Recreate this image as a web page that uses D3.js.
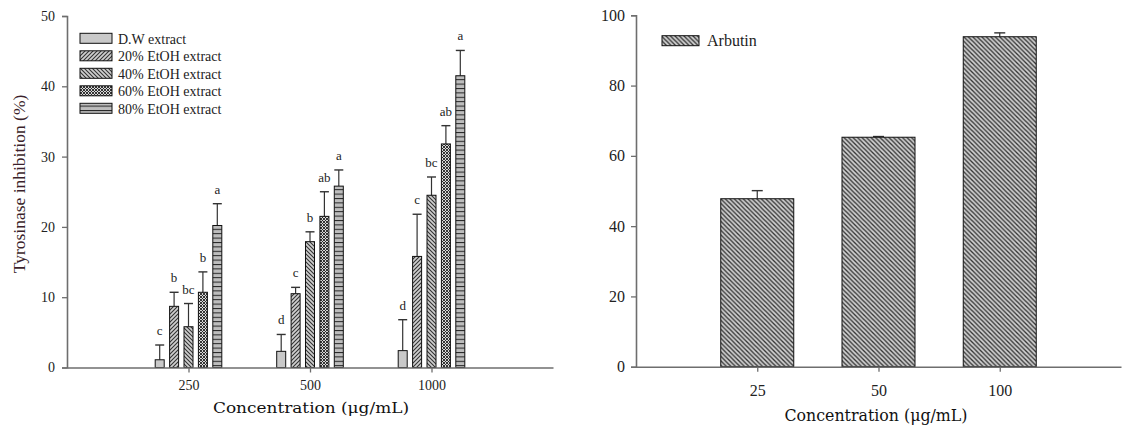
<!DOCTYPE html>
<html><head><meta charset="utf-8">
<script src="https://cdn.jsdelivr.net/npm/d3@7"></script>
<style>body{margin:0;background:#fff}svg{display:block}</style>
</head><body>
<svg id="c" width="1127" height="426"></svg>
<script>
// ---- data ----
const categoriesL = ["250", "500", "1000"];
const seriesNames = ["D.W extract", "20% EtOH extract", "40% EtOH extract", "60% EtOH extract", "80% EtOH extract"];
const dwValues  = [1.1, 2.3, 2.4];
const e20Values = [8.7, 10.5, 15.8];
const e40Values = [5.8, 17.9, 24.5];
const e60Values = [10.7, 21.5, 31.8];
const e80Values = [20.2, 25.8, 41.5];
const dwErr  = [2.1, 2.4, 4.4];
const e20Err = [2.0, 0.9, 6.0];
const e40Err = [3.3, 1.4, 2.6];
const e60Err = [2.9, 3.5, 2.6];
const e80Err = [3.1, 2.3, 3.6];
const dwLetters  = ["c", "d", "d"];
const e20Letters = ["b", "c", "c"];
const e40Letters = ["bc", "b", "bc"];
const e60Letters = ["b", "ab", "ab"];
const e80Letters = ["a", "a", "a"];
const yTicksL = [0, 10, 20, 30, 40, 50];

const categoriesR = ["25", "50", "100"];
const arbutinName = "Arbutin";
const arbutinValues = [47.8, 65.3, 93.9];
const arbutinErr = [2.3, 0.2, 1.1];
const yTicksR = [0, 20, 40, 60, 80, 100];

const xTitle = "Concentration (\u03bcg/mL)";
const yTitle = "Tyrosinase inhibition (%)";

// ---- setup ----
const svg = d3.select("#c");
const defs = svg.append("defs");
const serif = "'Liberation Serif','Times New Roman',serif";

function pat(id, w, h, bg, draw) {
  const p = defs.append("pattern").attr("id", id).attr("patternUnits", "userSpaceOnUse")
    .attr("width", w).attr("height", h);
  p.append("rect").attr("width", w).attr("height", h).attr("fill", bg);
  draw(p);
}
pat("p0", 4, 4, "#c9c9c9", p => {});
pat("p1", 4, 4, "#cfcfcf", p => p.append("path").attr("d", "M-1,1 l2,-2 M0,4 l4,-4 M3,5 l2,-2").attr("stroke", "#333").attr("stroke-width", 1.1));
pat("p2", 4, 4, "#cfcfcf", p => p.append("path").attr("d", "M-1,3 l2,2 M0,0 l4,4 M3,-1 l2,2").attr("stroke", "#333").attr("stroke-width", 1.1));
pat("p3", 3, 3, "#d8d8d8", p => p.append("path").attr("d", "M0,0 L3,3 M3,0 L0,3").attr("stroke", "#222").attr("stroke-width", 0.9));
pat("p4", 4, 4.4, "#bdbdbd", p => p.append("path").attr("d", "M0,0.5 H4").attr("stroke", "#222").attr("stroke-width", 1));
pat("pR", 4.5, 4.5, "#cfcfcf", p => p.append("path").attr("d", "M-1,3.5 l2,2 M0,0 l4.5,4.5 M3.5,-1 l2,2").attr("stroke", "#333").attr("stroke-width", 1.3));
const patIds = ["p0", "p1", "p2", "p3", "p4"];

const seriesVals = [dwValues, e20Values, e40Values, e60Values, e80Values];
const seriesErr = [dwErr, e20Err, e40Err, e60Err, e80Err];
const seriesLet = [dwLetters, e20Letters, e40Letters, e60Letters, e80Letters];

function styleAxis(g, fs) {
  g.select(".domain").attr("stroke", "#6e6e6e").attr("stroke-width", 1.6);
  g.selectAll(".tick line").attr("stroke", "#6e6e6e").attr("stroke-width", 1.3);
  g.selectAll(".tick text").attr("fill", "#222").style("font-family", serif).style("font-size", fs + "px");
}

// ---- left chart ----
const xL = d3.scaleLinear().domain([0, 4]).range([67, 553]);
const yL = d3.scaleLinear().domain([0, 50]).range([367.5, 16]);
const inner = d3.scaleBand().domain(seriesNames).range([-33.3, 33.3]).paddingInner(0.375).paddingOuter(0);
const bwL = inner.bandwidth();

const gL = svg.append("g");
seriesNames.forEach((s, si) => {
  categoriesL.forEach((c, ci) => {
    const x0 = xL(ci + 1) + inner(s);
    const v = seriesVals[si][ci], e = seriesErr[si][ci];
    const cx = x0 + bwL / 2;
    gL.append("line").attr("x1", cx).attr("x2", cx).attr("y1", yL(v)).attr("y2", yL(v + e)).attr("stroke", "#333").attr("stroke-width", 1.2);
    gL.append("line").attr("x1", cx - 4.5).attr("x2", cx + 4.5).attr("y1", yL(v + e)).attr("y2", yL(v + e)).attr("stroke", "#333").attr("stroke-width", 1.4);
    gL.append("rect").attr("x", x0).attr("y", yL(v)).attr("width", bwL).attr("height", yL(0) - yL(v))
      .attr("fill", "url(#" + patIds[si] + ")").attr("stroke", "#111").attr("stroke-width", 1);
    gL.append("text").attr("x", cx).attr("y", yL(v + e) - 10).attr("text-anchor", "middle")
      .style("font-family", serif).style("font-size", "13px").attr("fill", "#222").text(seriesLet[si][ci]);
  });
});

const axYL = svg.append("g").attr("transform", "translate(67,0)")
  .call(d3.axisLeft(yL).tickValues(yTicksL).tickSize(5).tickPadding(7).tickSizeOuter(5));
styleAxis(axYL, 14);
const axXL = svg.append("g").attr("transform", "translate(0,367.5)")
  .call(d3.axisBottom(xL).tickValues([1, 2, 3]).tickFormat(d => categoriesL[d - 1]).tickSize(5).tickPadding(8).tickSizeOuter(0));
styleAxis(axXL, 14);

// legend left
seriesNames.forEach((s, i) => {
  const y = 33.3 + i * 17.5;
  svg.append("rect").attr("x", 80).attr("y", y).attr("width", 32).attr("height", 10)
    .attr("fill", "url(#" + patIds[i] + ")").attr("stroke", "#111").attr("stroke-width", 1);
  svg.append("text").attr("x", 118).attr("y", y + 10.3).style("font-family", serif).style("font-size", "14px")
    .attr("fill", "#222").text(s);
});

svg.append("text").attr("transform", "translate(25,184) rotate(-90)").attr("text-anchor", "middle")
  .style("font-family", serif).style("font-size", "17.5px").attr("fill", "#3b1f2b").text(yTitle);
svg.append("text").attr("x", 311).attr("y", 413).attr("text-anchor", "middle")
  .style("font-family", "'DejaVu Serif',serif").style("font-size", "15px").attr("fill", "#111")
  .attr("textLength", 196).attr("lengthAdjust", "spacingAndGlyphs").text(xTitle);

// ---- right chart ----
const xR = d3.scaleLinear().domain([0, 4]).range([636, 1121]);
const yR = d3.scaleLinear().domain([0, 100]).range([366.7, 15.3]);
const bwR = 73;
const gR = svg.append("g");
categoriesR.forEach((c, ci) => {
  const cx = xR(ci + 1);
  const v = arbutinValues[ci], e = arbutinErr[ci];
  gR.append("line").attr("x1", cx).attr("x2", cx).attr("y1", yR(v)).attr("y2", yR(v + e)).attr("stroke", "#333").attr("stroke-width", 1.2);
  gR.append("line").attr("x1", cx - 5.5).attr("x2", cx + 5.5).attr("y1", yR(v + e)).attr("y2", yR(v + e)).attr("stroke", "#333").attr("stroke-width", 1.4);
  gR.append("rect").attr("x", cx - bwR / 2).attr("y", yR(v)).attr("width", bwR).attr("height", yR(0) - yR(v))
    .attr("fill", "url(#pR)").attr("stroke", "#111").attr("stroke-width", 1);
});
const axYR = svg.append("g").attr("transform", "translate(636,0)")
  .call(d3.axisLeft(yR).tickValues(yTicksR).tickSize(5).tickPadding(6).tickSizeOuter(5));
styleAxis(axYR, 16);
const axXR = svg.append("g").attr("transform", "translate(0,366.7)")
  .call(d3.axisBottom(xR).tickValues([1, 2, 3]).tickFormat(d => categoriesR[d - 1]).tickSize(5).tickPadding(13).tickSizeOuter(0));
styleAxis(axXR, 16);

svg.append("rect").attr("x", 662).attr("y", 35.7).attr("width", 37).attr("height", 10)
  .attr("fill", "url(#pR)").attr("stroke", "#111").attr("stroke-width", 1);
svg.append("text").attr("x", 707).attr("y", 45.7).style("font-family", serif).style("font-size", "16px")
  .attr("fill", "#222").text(arbutinName);
svg.append("text").attr("x", 876).attr("y", 421).attr("text-anchor", "middle")
  .style("font-family", "'DejaVu Serif',serif").style("font-size", "16px").attr("fill", "#111")
  .attr("textLength", 183).attr("lengthAdjust", "spacingAndGlyphs").text(xTitle);
</script>
</body></html>
